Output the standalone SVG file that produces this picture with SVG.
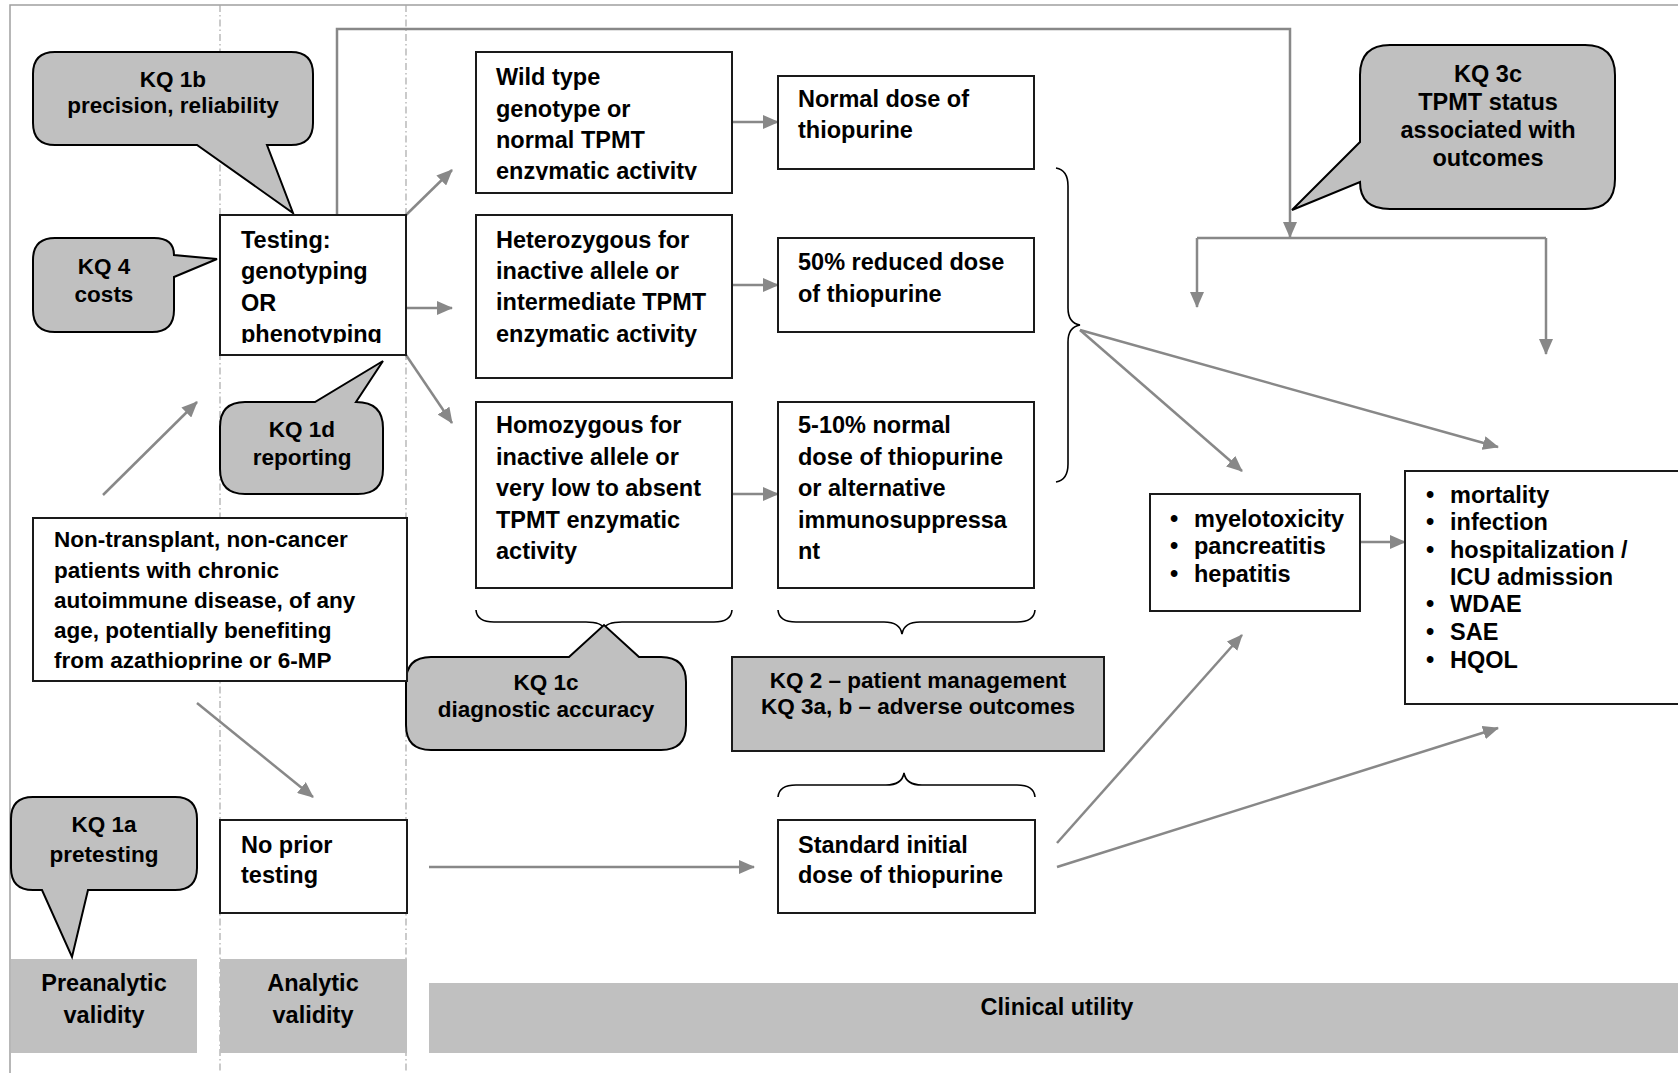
<svg xmlns="http://www.w3.org/2000/svg" width="1678" height="1073" viewBox="0 0 1678 1073">
<style>
text{font-family:"Liberation Sans",Arial,Helvetica,sans-serif;font-weight:bold;fill:#000}
.t{font-size:23.5px}
.s{font-size:22.5px}
.box{fill:#fff;stroke:#1a1a1a;stroke-width:2}
.call{fill:#c0c0c0;stroke:#000;stroke-width:2;stroke-linejoin:miter}
.band{fill:#c0c0c0}
.gbox{fill:#c0c0c0;stroke:#1a1a1a;stroke-width:2}
.frame{fill:none;stroke:#a0a0a0;stroke-width:1.5}
.dash{fill:none;stroke:#a8a8a8;stroke-width:1.2;stroke-dasharray:7,3,1.5,3}
.ln{fill:none;stroke:#888;stroke-width:2.5}
.arr{fill:none;stroke:#888;stroke-width:2.5;marker-end:url(#ah)}
.br{fill:none;stroke:#000;stroke-width:1.6}
.m{text-anchor:middle}
</style>
<defs>
<marker id="ah" markerUnits="userSpaceOnUse" markerWidth="16" markerHeight="14" refX="15" refY="7" orient="auto">
<path d="M0,0 L16,7 L0,14 Z" fill="#888"/>
</marker>
<clipPath id="cTest"><rect x="220" y="215" width="186" height="128"/></clipPath>
<clipPath id="cWild"><rect x="476" y="52" width="256" height="128"/></clipPath>
<clipPath id="cNon"><rect x="33" y="518" width="374" height="152"/></clipPath>
</defs>

<g id="frame">
<path class="frame" d="M10,1073 V5 H1678"/>
<line class="dash" x1="220" y1="5" x2="220" y2="1073"/>
<line class="dash" x1="406" y1="5" x2="406" y2="1073"/>
</g>

<g id="bands">
<g id="band-preanalytic"><rect class="band" x="11" y="959" width="186" height="94"/>
<text class="t m" x="104" y="991">Preanalytic</text><text class="t m" x="104" y="1023">validity</text></g>
<g id="band-analytic"><rect class="band" x="220" y="959" width="187" height="94"/>
<text class="t m" x="313" y="991">Analytic</text><text class="t m" x="313" y="1023">validity</text></g>
<g id="band-clinical"><rect class="band" x="429" y="983" width="1249" height="70"/>
<text class="t m" x="1057" y="1015">Clinical utility</text></g>
</g>

<g id="connectors">
<polyline class="arr" points="337,215 337,29 1290,29 1290,237"/>
<line class="ln" x1="1197" y1="238" x2="1546" y2="238"/>
<line class="arr" x1="1197" y1="238" x2="1197" y2="307"/>
<line class="arr" x1="1546" y1="238" x2="1546" y2="354"/>
<line class="arr" x1="406" y1="215" x2="452" y2="170"/>
<line class="arr" x1="406" y1="308" x2="452" y2="308"/>
<line class="arr" x1="406" y1="355" x2="452" y2="423"/>
<line class="arr" x1="103" y1="495" x2="197" y2="402"/>
<line class="arr" x1="197" y1="703" x2="313" y2="797"/>
<line class="arr" x1="429" y1="867" x2="754" y2="867"/>
<line class="arr" x1="732" y1="122" x2="778" y2="122"/>
<line class="arr" x1="732" y1="285" x2="778" y2="285"/>
<line class="arr" x1="732" y1="494" x2="778" y2="494"/>
<line class="arr" x1="1080" y1="330" x2="1242" y2="471"/>
<line class="arr" x1="1080" y1="330" x2="1498" y2="447"/>
<line class="arr" x1="1057" y1="843" x2="1242" y2="635"/>
<line class="arr" x1="1057" y1="867" x2="1498" y2="728"/>
<line class="arr" x1="1360" y1="542" x2="1405" y2="542"/>
</g>

<g id="braces">
<path class="br" d="M476,610 Q477,622 494,622 L586,622 Q602,622 604,629 Q606,622 622,622 L714,622 Q731,622 732,610"/>
<path class="br" d="M778,610 Q779,622 796,622 L884,622 Q900,622 902,634 Q904,622 920,622 L1017,622 Q1034,622 1035,610"/>
<path class="br" d="M778,797 Q779,785 796,785 L886,785 Q902,785 904,773 Q906,785 922,785 L1017,785 Q1034,785 1035,797"/>
<path class="br" d="M1056,168 Q1068,170 1068,186 L1068,308 Q1068,323 1080,325 Q1068,327 1068,342 L1068,464 Q1068,480 1056,482"/>
</g>

<g id="kq1b"><path class="call" d="M55,52 H291 Q313,52 313,74 V123 Q313,145 291,145 H267 L293,213 L197,145 H55 Q33,145 33,123 V74 Q33,52 55,52 Z"/>
<text class="s m" x="173" y="87">KQ 1b</text><text class="s m" x="173" y="113">precision, reliability</text></g>

<g id="kq4"><path class="call" d="M55,238 H154 Q174,238 174,255 L217,259 L174,277 V310 Q174,332 152,332 H55 Q33,332 33,310 V260 Q33,238 55,238 Z"/>
<text class="s m" x="104" y="274">KQ 4</text><text class="s m" x="104" y="302">costs</text></g>

<g id="kq1d"><path class="call" d="M245,402 H315 L383,361 L356,402 Q383,402 383,428 V469 Q383,494 358,494 H245 Q220,494 220,469 V427 Q220,402 245,402 Z"/>
<text class="s m" x="302" y="437">KQ 1d</text><text class="s m" x="302" y="465">reporting</text></g>

<g id="kq1c"><path class="call" d="M431,657 H569 L604,625 L639,657 H661 Q686,657 686,682 V725 Q686,750 661,750 H431 Q406,750 406,725 V682 Q406,657 431,657 Z"/>
<text class="s m" x="546" y="690">KQ 1c</text><text class="s m" x="546" y="717">diagnostic accuracy</text></g>

<g id="kq1a"><path class="call" d="M33,797 H175 Q197,797 197,819 V868 Q197,890 175,890 H88 L72,957 L42,890 H33 Q11,890 11,868 V819 Q11,797 33,797 Z"/>
<text class="s m" x="104" y="832">KQ 1a</text><text class="s m" x="104" y="862">pretesting</text></g>

<g id="kq3c"><path class="call" d="M1390,45 H1585 Q1615,45 1615,75 V179 Q1615,209 1585,209 H1390 Q1360,209 1360,182 L1292,210 L1360,142 V75 Q1360,45 1390,45 Z"/>
<text class="t m" x="1488" y="82">KQ 3c</text><text class="t m" x="1488" y="110">TPMT status</text><text class="t m" x="1488" y="138">associated with</text><text class="t m" x="1488" y="166">outcomes</text></g>

<g id="kq2-3ab"><rect class="gbox" x="732" y="657" width="372" height="94"/>
<text class="s m" x="918" y="688">KQ 2 – patient management</text><text class="s m" x="918" y="714">KQ 3a, b – adverse outcomes</text></g>

<g id="testing"><rect class="box" x="220" y="215" width="186" height="140"/>
<g clip-path="url(#cTest)"><text class="t" x="241" y="248">Testing:</text><text class="t" x="241" y="279">genotyping</text><text class="t" x="241" y="311">OR</text><text class="t" x="241" y="342">phenotyping</text></g></g>

<g id="population"><rect class="box" x="33" y="518" width="374" height="163"/>
<g clip-path="url(#cNon)"><text class="s" x="54" y="547">Non-transplant, non-cancer</text><text class="s" x="54" y="578">patients with chronic</text><text class="s" x="54" y="608">autoimmune disease, of any</text><text class="s" x="54" y="638">age, potentially benefiting</text><text class="s" x="54" y="668">from azathioprine or 6-MP</text></g></g>

<g id="no-prior"><rect class="box" x="220" y="820" width="187" height="93"/>
<text class="t" x="241" y="853">No prior</text><text class="t" x="241" y="883">testing</text></g>

<g id="wild"><rect class="box" x="476" y="52" width="256" height="141"/>
<g clip-path="url(#cWild)"><text class="t" x="496" y="85">Wild type</text><text class="t" x="496" y="117">genotype or</text><text class="t" x="496" y="148">normal TPMT</text><text class="t" x="496" y="179">enzymatic activity</text></g></g>

<g id="hetero"><rect class="box" x="476" y="215" width="256" height="163"/>
<text class="t" x="496" y="248">Heterozygous for</text><text class="t" x="496" y="279">inactive allele or</text><text class="t" x="496" y="310">intermediate TPMT</text><text class="t" x="496" y="342">enzymatic activity</text></g>

<g id="homo"><rect class="box" x="476" y="402" width="256" height="186"/>
<text class="t" x="496" y="433">Homozygous for</text><text class="t" x="496" y="465">inactive allele or</text><text class="t" x="496" y="496">very low to absent</text><text class="t" x="496" y="528">TPMT enzymatic</text><text class="t" x="496" y="559">activity</text></g>

<g id="normal-dose"><rect class="box" x="778" y="76" width="256" height="93"/>
<text class="t" x="798" y="107">Normal dose of</text><text class="t" x="798" y="138">thiopurine</text></g>

<g id="reduced-dose"><rect class="box" x="778" y="238" width="256" height="94"/>
<text class="t" x="798" y="270">50% reduced dose</text><text class="t" x="798" y="302">of thiopurine</text></g>

<g id="low-dose"><rect class="box" x="778" y="402" width="256" height="186"/>
<text class="t" x="798" y="433">5-10% normal</text><text class="t" x="798" y="465">dose of thiopurine</text><text class="t" x="798" y="496">or alternative</text><text class="t" x="798" y="528">immunosuppressa</text><text class="t" x="798" y="559">nt</text></g>

<g id="standard-dose"><rect class="box" x="778" y="820" width="257" height="93"/>
<text class="t" x="798" y="853">Standard initial</text><text class="t" x="798" y="883">dose of thiopurine</text></g>

<g id="adverse"><rect class="box" x="1150" y="494" width="210" height="117"/>
<text class="t" x="1170" y="527">•</text><text class="t" x="1194" y="527">myelotoxicity</text>
<text class="t" x="1170" y="554">•</text><text class="t" x="1194" y="554">pancreatitis</text>
<text class="t" x="1170" y="582">•</text><text class="t" x="1194" y="582">hepatitis</text></g>

<g id="outcomes"><rect class="box" x="1405" y="471" width="300" height="233"/>
<text class="t" x="1426" y="503">•</text><text class="t" x="1450" y="503">mortality</text>
<text class="t" x="1426" y="530">•</text><text class="t" x="1450" y="530">infection</text>
<text class="t" x="1426" y="558">•</text><text class="t" x="1450" y="558">hospitalization /</text>
<text class="t" x="1450" y="585">ICU admission</text>
<text class="t" x="1426" y="612">•</text><text class="t" x="1450" y="612">WDAE</text>
<text class="t" x="1426" y="640">•</text><text class="t" x="1450" y="640">SAE</text>
<text class="t" x="1426" y="668">•</text><text class="t" x="1450" y="668">HQOL</text></g>
</svg>
